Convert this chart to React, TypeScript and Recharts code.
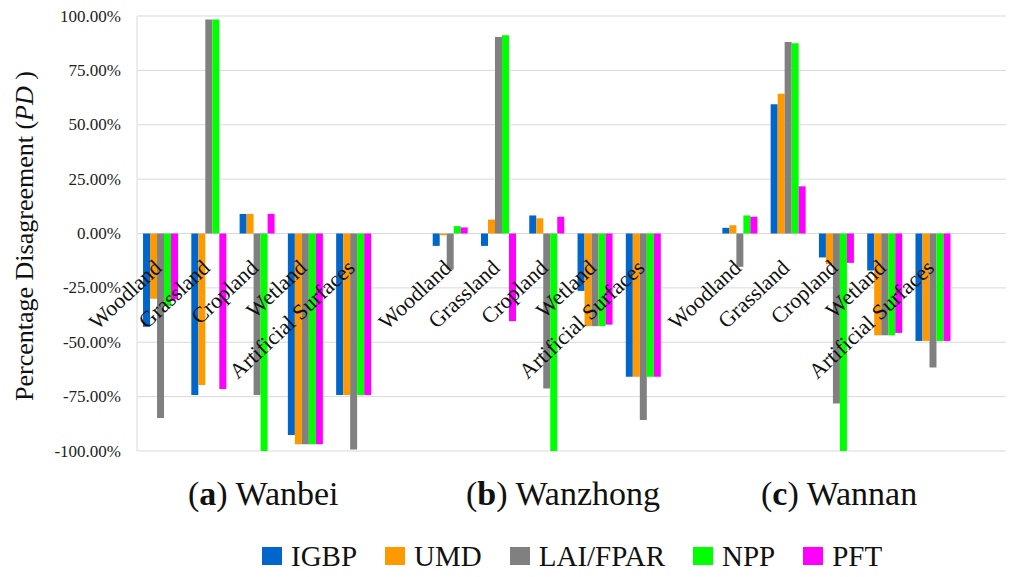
import { BarChart, Bar, XAxis, YAxis, CartesianGrid } from "recharts"

const groups = ["Wanbei", "Wanzhong", "Wannan"]
const groupLetters = ["a", "b", "c"]
const categories = ["Woodland", "Grassland", "Cropland", "Wetland", "Artificial Surfaces"]
const yTicks = [-100, -75, -50, -25, 0, 25, 50, 75, 100]

// values in %, 5 categories per region (Wanbei, Wanzhong, Wannan)
const igbp = [-42.9, -74.3, 9.0, -92.7, -74.3, -5.7, -5.7, 8.3, -26.4, -65.9, 2.6, 59.4, -11.0, -17.0, -49.4]
const umd = [-30.0, -69.7, 9.0, -96.9, -74.3, -0.8, 6.4, 7.0, -42.6, -65.9, 3.8, 64.2, -14.1, -46.8, -49.4]
const laiFpar = [-84.8, 98.4, -74.3, -96.9, -99.3, -16.5, 90.4, -71.3, -42.6, -85.8, -15.3, 88.1, -78.2, -46.8, -61.6]
const npp = [-33.4, 98.4, -100, -96.9, -74.3, 3.4, 91.2, -100, -42.6, -65.9, 8.3, 87.5, -100, -46.8, -49.4]
const pft = [-30.2, -71.5, 9.0, -96.9, -74.3, 2.8, -40.3, 7.7, -41.9, -65.9, 7.7, 21.7, -13.5, -45.7, -49.4]

const series = [
    { name: "IGBP", values: igbp, color: "#0066cc" },
    { name: "UMD", values: umd, color: "#ff9900" },
    { name: "LAI/FPAR", values: laiFpar, color: "#808080" },
    { name: "NPP", values: npp, color: "#00ff00" },
    { name: "PFT", values: pft, color: "#ff00ff" },
]

// one row per category, plus an empty slot after each region
const rows: Record<string, string | number>[] = []
groups.forEach((g, gi) => {
    categories.forEach((c, ci) => {
        const row: Record<string, string | number> = { key: `${g}|${c}` }
        series.forEach((s) => {
            row[s.name] = s.values[gi * categories.length + ci]
        })
        rows.push(row)
    })
    rows.push({ key: `${g}|` })
})

const FONT = '"Liberation Serif", "Times New Roman", serif'
const W = 1024
const H = 577
const PLOT_LEFT = 137
const PLOT_TOP = 16
const PLOT_BOTTOM = 451
const ZERO_Y = (PLOT_TOP + PLOT_BOTTOM) / 2
const titleX = [188, 466, 761]

function YTick({ y, payload }: any) {
    return (
        <text
            x={PLOT_LEFT - 16}
            y={y}
            textAnchor="end"
            dominantBaseline="central"
            fontFamily={FONT}
            fontSize={17}
            fill="#222"
        >
            {`${Number(payload.value).toFixed(2)}%`}
        </text>
    )
}

function XTick({ x, payload }: any) {
    const label = String(payload.value).split("|")[1]
    if (!label) return null
    return (
        <text
            transform={`translate(${x + 2}, ${ZERO_Y + 36}) rotate(-43)`}
            textAnchor="end"
            fontFamily={FONT}
            fontSize={22}
            fill="#111"
        >
            {label}
        </text>
    )
}

export default function App() {
    return (
        <div style={{ position: "absolute", left: 0, top: 0, width: W, height: H, background: "#fff" }}>
            <BarChart
                width={W}
                height={H}
                data={rows}
                margin={{ top: PLOT_TOP, right: W - 1006, left: 0, bottom: 0 }}
                barCategoryGap="12.5%"
                barGap={0}
            >
                <CartesianGrid vertical={false} stroke="#d9d9d9" />
                <YAxis
                    type="number"
                    domain={[-100, 100]}
                    ticks={yTicks}
                    width={PLOT_LEFT}
                    axisLine={{ stroke: "#d9d9d9" }}
                    tickLine={false}
                    tick={<YTick />}
                />
                {series.map((s) => (
                    <Bar key={s.name} dataKey={s.name} fill={s.color} isAnimationActive={false} />
                ))}
                <XAxis
                    dataKey="key"
                    interval={0}
                    height={H - PLOT_BOTTOM}
                    axisLine={false}
                    tickLine={false}
                    tick={<XTick />}
                />
            </BarChart>

            <svg
                width={W}
                height={H}
                style={{ position: "absolute", left: 0, top: 0, pointerEvents: "none" }}
            >
                <text
                    transform={`translate(33, 236) rotate(-90)`}
                    textAnchor="middle"
                    fontFamily={FONT}
                    fontSize={26}
                    fill="#111"
                >
                    Percentage Disagreement (<tspan fontStyle="italic">PD</tspan> )
                </text>
                {groups.map((g, i) => (
                    <text key={g} x={titleX[i]} y={505} fontFamily={FONT} fontSize={34} fill="#111">
                        (<tspan fontWeight="bold">{groupLetters[i]}</tspan>) {g}
                    </text>
                ))}
            </svg>

            <div
                style={{
                    position: "absolute",
                    left: 262,
                    top: 542,
                    height: 28,
                    display: "flex",
                    alignItems: "center",
                    gap: 28,
                    fontFamily: FONT,
                    fontSize: 29,
                    lineHeight: "28px",
                    color: "#111",
                    whiteSpace: "nowrap",
                }}
            >
                {series.map((s) => (
                    <div key={s.name} style={{ display: "flex", alignItems: "center", gap: 9 }}>
                        <span style={{ width: 20, height: 18, background: s.color, display: "inline-block" }} />
                        <span>{s.name}</span>
                    </div>
                ))}
            </div>
        </div>
    )
}
